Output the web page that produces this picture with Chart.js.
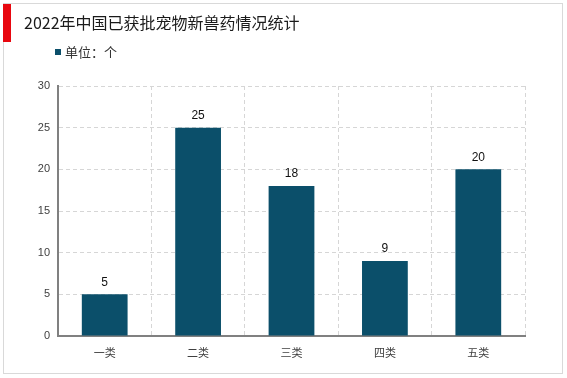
<!DOCTYPE html>
<html>
<head>
<meta charset="utf-8">
<script src="https://cdn.jsdelivr.net/npm/chart.js@4/dist/chart.umd.min.js"></script>
<style>
  html, body { margin: 0; padding: 0; background: #fff; }
  #wrap { width: 567px; height: 378px; }
</style>
</head>
<body>
<div id="wrap"><canvas id="barChart" width="567" height="378"></canvas></div>
<script>
const title = '2022年中国已获批宠物新兽药情况统计';
const unitLabel = '单位：个';
const categories = ['一类', '二类', '三类', '四类', '五类'];
const counts = [5, 25, 18, 9, 20];
const yTicks = [0, 5, 10, 15, 20, 25, 30];

const barColor = '#0b4f6a';
const cjk = '"Noto Sans CJK SC", "Liberation Sans", sans-serif';

// frame, red marker, title, legend
const decor = {
  id: 'decor',
  beforeDraw(chart) {
    const c = chart.ctx;
    c.save();
    c.fillStyle = '#fff';
    c.fillRect(0, 0, chart.width, chart.height);
    c.strokeStyle = '#d9d9d9';
    c.lineWidth = 1;
    c.strokeRect(3.5, 3.5, 559, 370);
    c.fillStyle = '#e8070f';
    c.fillRect(3, 4, 8, 38);
    c.fillStyle = '#1a1a1a';
    c.font = '16px ' + cjk;
    c.textBaseline = 'middle';
    c.fillText(title, 24, 23);
    c.fillStyle = barColor;
    c.fillRect(55, 49, 6, 6);
    c.fillStyle = '#333';
    c.font = '13px ' + cjk;
    c.fillText(unitLabel, 65, 52);
    c.restore();
  }
};

// value labels above bars
const valueLabels = {
  id: 'valueLabels',
  afterDatasetsDraw(chart) {
    const c = chart.ctx;
    const meta = chart.getDatasetMeta(0);
    c.save();
    c.fillStyle = '#111';
    c.font = '12px "Liberation Sans", Arial, sans-serif';
    c.textAlign = 'center';
    c.textBaseline = 'bottom';
    meta.data.forEach((bar, i) => {
      c.fillText(counts[i], bar.x, bar.y - 6);
    });
    c.restore();
  }
};

new Chart(document.getElementById('barChart').getContext('2d'), {
  type: 'bar',
  data: {
    labels: categories,
    datasets: [{
      label: unitLabel,
      data: counts,
      backgroundColor: barColor,
      categoryPercentage: 1,
      barPercentage: 0.49
    }]
  },
  options: {
    responsive: false,
    animation: false,
    devicePixelRatio: 1,
    layout: { padding: { top: 86, left: 0, right: 42, bottom: 0 } },
    plugins: {
      legend: { display: false },
      tooltip: { enabled: false }
    },
    scales: {
      x: {
        afterFit(scale) { scale.height = 42; },
        grid: {
          offset: true,
          drawTicks: false,
          color: '#d6d6d6',
          lineWidth: 1
        },
        // dash applies to the grid lines, the axis line stays solid
        border: { display: true, color: '#808080', width: 2, dash: [4, 3] },
        ticks: {
          color: '#404040',
          padding: 10,
          font: { size: 11, family: cjk }
        }
      },
      y: {
        min: 0,
        max: 30,
        afterFit(scale) { scale.width = 58; },
        afterBuildTicks(scale) { scale.ticks = yTicks.map(v => ({ value: v })); },
        grid: {
          drawTicks: false,
          color: '#d6d6d6',
          lineWidth: 1
        },
        border: { display: true, color: '#808080', width: 2, dash: [4, 3] },
        ticks: {
          color: '#404040',
          padding: 8,
          font: { size: 11, family: '"Liberation Sans", Arial, sans-serif' }
        }
      }
    }
  },
  plugins: [decor, valueLabels]
});
</script>
</body>
</html>
